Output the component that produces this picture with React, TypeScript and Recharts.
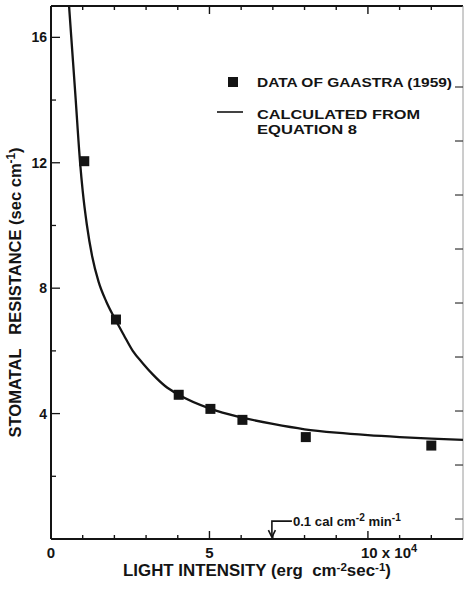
import React from 'react';
import { ComposedChart, Line, Scatter, XAxis, YAxis, Legend, ReferenceLine } from 'recharts';

// light intensity in 10^4 erg cm-2 s-1, stomatal resistance in s cm-1
const gaastraX = [1.05, 2.05, 4.03, 5.03, 6.04, 8.04, 12.0];
const gaastraY = [12.05, 7.0, 4.6, 4.15, 3.8, 3.25, 2.98];

const curveX = [0.57, 0.64, 0.77, 0.92, 1.0, 1.13, 1.3, 1.5, 1.75, 2.03, 2.3, 2.58, 2.9, 3.21, 3.6, 4.03, 5.04, 6.0, 7.0, 8.0, 9.0, 10.0, 11.0, 12.0, 13.0];
const curveY = [17.0, 16.0, 14.15, 11.98, 11.1, 10.03, 9.01, 8.21, 7.56, 7.0, 6.5, 6.0, 5.6, 5.25, 4.88, 4.6, 4.15, 3.88, 3.67, 3.5, 3.39, 3.31, 3.25, 3.2, 3.16];

const xLabelTicks = [0, 5, 10];
const xMinorTicks = [1, 2, 3, 4, 6, 7, 8, 9, 11, 12];
const xMajorTicks = [5, 10];
const yLabelTicks = [4, 8, 12, 16];
const yMinorTicks = [2, 6, 10, 14];
// right frame carries its own tick spacing
const rightTicks = [0.37, 1.37, 2.37, 3.37, 4.37, 5.37, 6.37, 7.37, 8.37];

const legendLabels = ['DATA OF GAASTRA (1959)', 'CALCULATED FROM', 'EQUATION 8'];
const annotationX = 6.97; // 0.1 cal cm-2 min-1

const points = gaastraX.map((x, i) => ({ x, y: gaastraY[i] }));
const curve = curveX.map((x, i) => ({ x, y: curveY[i] }));

const INK = '#141414';
const FONT = '"Liberation Sans", Arial, sans-serif';

const Square = (props: any) => {
  const { cx, cy } = props;
  return <rect x={cx - 5} y={cy - 5} width={10} height={10} fill={INK} />;
};

// tick stubs drawn inward from the frame
const xStub = (len: number, top: boolean) => (p: any) => {
  const yb = Math.max(p.y1, p.y2);
  const yt = Math.min(p.y1, p.y2);
  return (
    <g>
      <line x1={p.x1} x2={p.x1} y1={yb} y2={yb - len} stroke={INK} strokeWidth={1.4} />
      {top && <line x1={p.x1} x2={p.x1} y1={yt} y2={yt + len} stroke={INK} strokeWidth={1.4} />}
    </g>
  );
};

const yStub = (len: number, side: 'left' | 'right') => (p: any) => {
  const x0 = side === 'left' ? Math.min(p.x1, p.x2) : Math.max(p.x1, p.x2);
  const x1 = side === 'left' ? x0 + len : x0 - len;
  return <line x1={x0} x2={x1} y1={p.y1} y2={p.y1} stroke={side === 'left' ? INK : '#444'} strokeWidth={1.3} />;
};

const XTick = (props: any) => {
  const { x, y, payload } = props;
  if (payload.value === 10) {
    return (
      <text x={x - 7} y={y + 19} fill={INK} fontSize={15} fontFamily={FONT} fontWeight="bold">
        10 x 10<tspan dy={-6} fontSize={11}>4</tspan>
      </text>
    );
  }
  return (
    <text x={x} y={y + 19} textAnchor="middle" fill={INK} fontSize={15} fontFamily={FONT} fontWeight="bold">
      {payload.value}
    </text>
  );
};

const YTick = (props: any) => {
  const { x, y, payload } = props;
  return (
    <text x={x - 4} y={y + 5} textAnchor="end" fill={INK} fontSize={14} fontFamily={FONT} fontWeight="bold">
      {payload.value}
    </text>
  );
};

const XTitle = (props: any) => {
  const { viewBox } = props;
  return (
    <text
      x={viewBox.x + viewBox.width / 2}
      y={viewBox.y + 37}
      textAnchor="middle"
      fill={INK}
      fontSize={16}
      fontFamily={FONT}
      fontWeight="bold"
      textLength={268}
      lengthAdjust="spacingAndGlyphs"
    >
      LIGHT INTENSITY (erg{'\u00a0\u00a0'}cm<tspan dy={-5} fontSize={11}>-2</tspan>
      <tspan dy={5}>sec</tspan>
      <tspan dy={-5} fontSize={11}>-1</tspan>
      <tspan dy={5}>)</tspan>
    </text>
  );
};

const YTitle = (props: any) => {
  const { viewBox } = props;
  const cx = viewBox.x + 21;
  const cy = viewBox.y + viewBox.height / 2 + 20;
  return (
    <text
      x={cx}
      y={cy}
      transform={`rotate(-90 ${cx} ${cy})`}
      textAnchor="middle"
      fill={INK}
      fontSize={17}
      fontFamily={FONT}
      fontWeight="bold"
      textLength={290}
      lengthAdjust="spacingAndGlyphs"
    >
      STOMATAL{'\u00a0\u00a0\u00a0'}RESISTANCE (sec cm<tspan dy={-6} fontSize={12}>-1</tspan>
      <tspan dy={6}>)</tspan>
    </text>
  );
};

const Arrow = (props: any) => {
  const { x1, y1, x2, y2 } = props;
  return (
    <g>
      <path d={`M${x1 + 20},${y1} L${x1},${y1} L${x2},${y2}`} fill="none" stroke={INK} strokeWidth={1.6} />
      <path d={`M${x2 - 3.5},${y2 - 7} L${x2},${y2} L${x2 + 3.5},${y2 - 7}`} fill="none" stroke={INK} strokeWidth={1.6} />
      <text x={x1 + 21} y={y1 + 5} fill={INK} fontSize={13} fontFamily={FONT} fontWeight="bold" textLength={108} lengthAdjust="spacingAndGlyphs">
        0.1 cal cm<tspan dy={-5} fontSize={10}>-2</tspan>
        <tspan dy={5}> min</tspan>
        <tspan dy={-5} fontSize={10}>-1</tspan>
      </text>
    </g>
  );
};

const LegendBox = () => (
  <svg width={254} height={70} style={{ display: 'block' }}>
    <rect x={18} y={7} width={10} height={10} fill={INK} />
    <line x1={7} x2={33} y1={42} y2={42} stroke={INK} strokeWidth={1.6} />
    <g fill={INK} fontSize={13} fontFamily={FONT} fontWeight="bold">
      <text x={47} y={17} textLength={195} lengthAdjust="spacingAndGlyphs">{legendLabels[0]}</text>
      <text x={47} y={49} textLength={163} lengthAdjust="spacingAndGlyphs">{legendLabels[1]}</text>
      <text x={47} y={64} textLength={100} lengthAdjust="spacingAndGlyphs">{legendLabels[2]}</text>
    </g>
  </svg>
);

export default function App() {
  return (
    <div style={{ position: 'absolute', left: 0, top: 0, width: 464, height: 589, background: '#fff' }}>
      <ComposedChart width={464} height={589} margin={{ top: 6, right: 1, bottom: 0, left: 0 }}>
        <XAxis
          xAxisId="main"
          dataKey="x"
          type="number"
          domain={[0, 13]}
          allowDataOverflow
          ticks={xLabelTicks}
          tick={<XTick />}
          tickLine={false}
          tickSize={0}
          tickMargin={0}
          height={50}
          axisLine={{ stroke: INK, strokeWidth: 2 }}
          label={<XTitle />}
        />
        <YAxis
          yAxisId="main"
          dataKey="y"
          type="number"
          domain={[0, 17]}
          allowDataOverflow
          ticks={yLabelTicks}
          tick={<YTick />}
          tickLine={false}
          tickSize={0}
          tickMargin={0}
          width={51}
          axisLine={{ stroke: INK, strokeWidth: 2 }}
          label={<YTitle />}
        />
        <YAxis yAxisId="right" orientation="right" type="number" domain={[0, 9.87]} allowDataOverflow hide width={0} />

        {/* frame */}
        <ReferenceLine xAxisId="main" yAxisId="main" y={17} stroke={INK} strokeWidth={2} />
        <ReferenceLine xAxisId="main" yAxisId="main" x={13} stroke="#9a9a9a" strokeWidth={1} />

        {xMinorTicks.map((v) => (
          <ReferenceLine key={`xm${v}`} xAxisId="main" yAxisId="main" x={v} shape={xStub(4, true)} />
        ))}
        {xMajorTicks.map((v) => (
          <ReferenceLine key={`xM${v}`} xAxisId="main" yAxisId="main" x={v} shape={xStub(8, true)} />
        ))}
        {yMinorTicks.map((v) => (
          <ReferenceLine key={`ym${v}`} xAxisId="main" yAxisId="main" y={v} shape={yStub(5, 'left')} />
        ))}
        {yLabelTicks.map((v) => (
          <ReferenceLine key={`yM${v}`} xAxisId="main" yAxisId="main" y={v} shape={yStub(9, 'left')} />
        ))}
        {rightTicks.map((v) => (
          <ReferenceLine key={`yr${v}`} xAxisId="main" yAxisId="right" y={v} shape={yStub(8, 'right')} />
        ))}

        <Legend
          layout="horizontal"
          verticalAlign="middle"
          align="center"
          wrapperStyle={{ left: 210, top: 70, width: 254, height: 70 }}
          content={() => <LegendBox />}
        />
        <Line
          xAxisId="main"
          yAxisId="main"
          data={curve}
          dataKey="y"
          type="monotone"
          stroke={INK}
          strokeWidth={2.3}
          dot={false}
          activeDot={false}
          isAnimationActive={false}
        />
        <Scatter
          xAxisId="main"
          yAxisId="main"
          data={points}
          dataKey="y"
          shape={Square}
          isAnimationActive={false}
        />
        <ReferenceLine
          xAxisId="main"
          yAxisId="main"
          segment={[{ x: annotationX, y: 0.57 }, { x: annotationX, y: 0.06 }]}
          shape={Arrow}
        />
      </ComposedChart>
    </div>
  );
}
